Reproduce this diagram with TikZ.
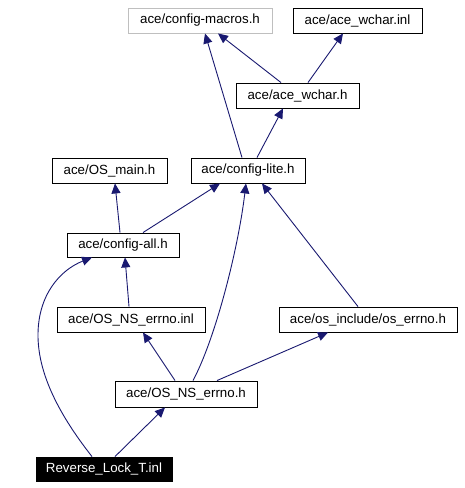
\documentclass[tikz,border=0pt]{standalone}
\usepackage{fontspec}
\setmainfont{Liberation Sans}
\usetikzlibrary{arrows.meta}
\definecolor{edgeblue}{HTML}{191970}
\definecolor{greybox}{HTML}{BFBFBF}
\tikzset{
  box/.style={draw=black, line width=0.9pt, minimum height=25pt, inner sep=0pt, font=\fontsize{13.3}{16}\selectfont, fill=white},
  greyb/.style={box, draw=greybox},
  blackb/.style={box, fill=black, text=white},
  edge/.style={draw=edgeblue, line width=0.9pt, -{Triangle[length=10pt,width=9pt]}}
}
\begin{document}
\begin{tikzpicture}[x=1pt,y=-1pt]
\useasboundingbox (0,0) rectangle (464,488);
\node[greyb, minimum width=144pt] (cm) at (200,20.5) {ace/config-macros.h};
\node[box, minimum width=129pt] (wi) at (357.5,20.5) {ace/ace\_wchar.inl};
\node[box, minimum width=123pt] (wh) at (297.5,95.5) {ace/ace\_wchar.h};
\node[box, minimum width=115pt] (om) at (109.5,170.5) {ace/OS\_main.h};
\node[box, minimum width=114pt] (cl) at (248,170.5) {ace/config-lite.h};
\node[box, minimum width=112pt, minimum height=24pt] (ca) at (123,245) {ace/config-all.h};
\node[box, minimum width=148pt] (ni) at (131,319.5) {ace/OS\_NS\_errno.inl};
\node[box, minimum width=178pt] (oe) at (368,319.5) {ace/os\_include/os\_errno.h};
\node[box, minimum width=142pt, minimum height=26pt] (oh) at (186,394) {ace/OS\_NS\_errno.h};
\node[blackb, minimum width=136pt, minimum height=24pt] (rv) at (104,469) {Reverse\_Lock\_T.inl};

\draw[edge] ([xshift=-6pt]cl.north) -- ([xshift=5pt]cm.south);
\draw[edge] ([xshift=-16.5pt]wh.north) -- ([xshift=18pt]cm.south);
\draw[edge] ([xshift=10.5pt]wh.north) -- ([xshift=-14.5pt]wi.south);
\draw[edge] ([xshift=9pt]cl.north) -- ([xshift=-14.5pt]wh.south);
\draw[edge] ([xshift=-3pt]ca.north) -- ([xshift=5.5pt]om.south);
\draw[edge] ([xshift=20pt]ca.north) -- ([xshift=-28pt]cl.south);
\draw[edge] ([xshift=7pt]oh.north) .. controls +(22,-41) and +(-8,67) .. ([xshift=-2pt]cl.south);
\draw[edge] ([xshift=-10pt]oe.north) -- ([xshift=14pt]cl.south);
\draw[edge] ([xshift=-2pt]ni.north) -- ([xshift=2pt]ca.south);
\coordinate (rvmid) at (38,335);
\draw[edge] ([xshift=-12pt]rv.north) .. controls +(-37,-47) and (38,370) .. (rvmid) .. controls (38,295) and (60,270) .. ([xshift=-31pt]ca.south);
\draw[edge] ([xshift=-11pt]oh.north) -- ([xshift=12pt]ni.south);
\draw[edge] ([xshift=31pt]oh.north) -- ([xshift=-40pt]oe.south);
\draw[edge] ([xshift=11pt]rv.north) -- ([xshift=-21pt]oh.south);
\end{tikzpicture}
\end{document}
